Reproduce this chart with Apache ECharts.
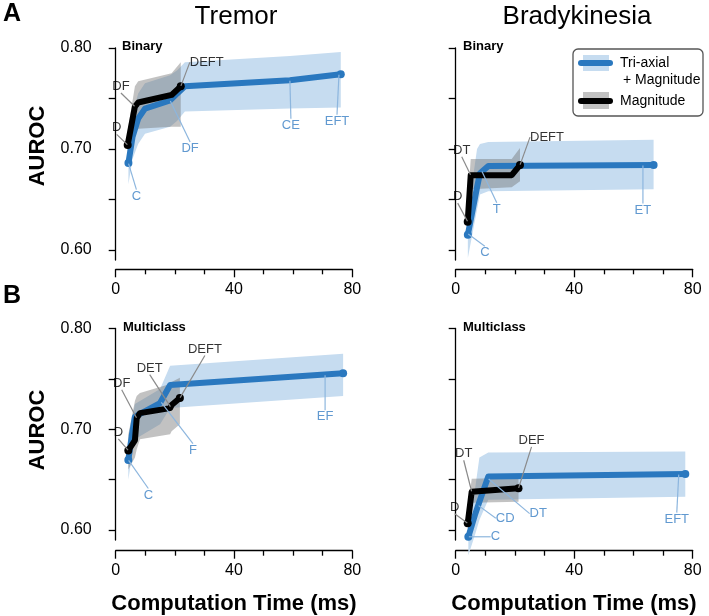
<!DOCTYPE html>
<html>
<head>
<meta charset="utf-8">
<script src="https://cdn.jsdelivr.net/npm/echarts@6/dist/echarts.min.js"></script>
<style>html,body{margin:0;padding:0;background:#fff}#c{width:709px;height:616px}</style>
</head>
<body>
<div id="c"></div>
<script>
// ---------- DATA ----------
const xTickLabels = [0, 40, 80];
const yTickLabels = [0.60, 0.70, 0.80];
const yTicks = [0.60, 0.65, 0.70, 0.75, 0.80];

// Tremor - Binary
const tbTriTime = [4.3, 5.7, 7.6, 9.9, 18.4, 20.8, 23.4, 58.9, 76.1];
const tbTriAuc  = [0.686, 0.712, 0.730, 0.740, 0.748, 0.755, 0.762, 0.768, 0.774];
const tbTriLo   = [0.665, 0.690, 0.705, 0.715, 0.722, 0.728, 0.737, 0.740, 0.741];
const tbTriHi   = [0.705, 0.735, 0.755, 0.765, 0.773, 0.778, 0.786, 0.792, 0.796];
const tbMagTime = [4.05, 6.5, 7.6, 18.9, 22.0];
const tbMagAuc  = [0.704, 0.742, 0.746, 0.7535, 0.762];
const tbMagLo   = [0.690, 0.716, 0.720, 0.722, 0.722];
const tbMagHi   = [0.718, 0.762, 0.767, 0.775, 0.786];
const tbMagNotes = [['D', 4.05, 0.704], ['DF', 6.5, 0.742], ['DEFT', 22.0, 0.762]];
const tbTriNotes = [['C', 4.3, 0.686], ['DF', 18.4, 0.748], ['CE', 58.9, 0.768], ['EFT', 75.5, 0.774]];

// Bradykinesia - Binary
const bbTriTime = [4.1, 7.2, 8.2, 11.0, 66.8];
const bbTriAuc  = [0.615, 0.662, 0.676, 0.683, 0.684];
const bbTriLo   = [0.592, 0.640, 0.655, 0.658, 0.660];
const bbTriHi   = [0.635, 0.700, 0.705, 0.707, 0.709];
const bbMagTime = [4.05, 5.07, 18.9, 21.7];
const bbMagAuc  = [0.628, 0.674, 0.674, 0.684];
const bbMagLo   = [0.612, 0.660, 0.662, 0.668];
const bbMagHi   = [0.645, 0.690, 0.690, 0.701];
const bbMagNotes = [['D', 4.05, 0.628], ['DT', 5.07, 0.674], ['DEFT', 21.7, 0.684]];
const bbTriNotes = [['C', 4.1, 0.616], ['T', 8.8, 0.678], ['ET', 63.2, 0.684]];

// Tremor - Multiclass
const tmTriTime = [4.27, 5.4, 6.5, 15.0, 18.4, 76.9];
const tmTriAuc  = [0.6695, 0.693, 0.7125, 0.726, 0.744, 0.7555];
const tmTriLo   = [0.650, 0.672, 0.690, 0.705, 0.721, 0.733];
const tmTriHi   = [0.683, 0.708, 0.725, 0.740, 0.763, 0.775];
const tmMagTime = [4.27, 6.5, 7.1, 8.2, 18.4, 18.9, 21.7];
const tmMagAuc  = [0.679, 0.689, 0.711, 0.716, 0.721, 0.724, 0.731];
const tmMagLo   = [0.660, 0.672, 0.680, 0.690, 0.695, 0.698, 0.705];
const tmMagHi   = [0.695, 0.728, 0.733, 0.736, 0.745, 0.747, 0.751];
const tmMagNotes = [['D', 4.27, 0.679], ['DF', 7.1, 0.711], ['DET', 18.6, 0.722], ['DEFT', 21.7, 0.731]];
const tmTriNotes = [['C', 4.27, 0.6695], ['F', 15.3, 0.727], ['EF', 70.8, 0.754]];

// Bradykinesia - Multiclass
const bmTriTime = [4.27, 6.5, 8.0, 11.0, 77.5];
const bmTriAuc  = [0.5933, 0.615, 0.628, 0.653, 0.6556];
const bmTriLo   = [0.575, 0.595, 0.610, 0.630, 0.633];
const bmTriHi   = [0.615, 0.640, 0.672, 0.677, 0.678];
const bmMagTime = [4.05, 5.4, 21.2];
const bmMagAuc  = [0.6067, 0.638, 0.6414];
const bmMagLo   = [0.600, 0.627, 0.628];
const bmMagHi   = [0.618, 0.651, 0.652];
const bmMagNotes = [['D', 4.05, 0.6067], ['DT', 5.4, 0.638], ['DEF', 21.2, 0.6414]];
const bmTriNotes = [['C', 4.27, 0.5933], ['CD', 7.6, 0.6245], ['DT', 11.0, 0.651], ['EFT', 75.3, 0.6555]];

// ---------- label offsets (pixels, style only) ----------
const offs = {
  tbMag: [[-11, -17], [-14, -20], [26, -24]],
  tbTri: [[8, 33], [20, 48], [1, 45], [-2, 47]],
  bbMag: [[-10, -25], [-9, -25], [27, -28]],
  bbTri: [[17, 19], [15, 38], [0, 45]],
  tmMag: [[-10, -18], [-15, -35], [-21, -39], [25, -49]],
  tmTri: [[20, 35], [32, 48], [0, 42]],
  bmMag: [[-13, -16], [-8, -38], [13, -48]],
  bmTri: [[27, 0], [27, 13], [50, 35], [-2, 45]]
};

// ---------- STYLE ----------
const FONT = 'Liberation Sans, Arial, Helvetica, sans-serif';
const BLUE = '#2a78bf';
const BLUE_TXT = '#3a80c4';
const BLUE_BAND = '#c6dcf0';
const GREY_BAND = 'rgba(110,110,110,0.42)';
const BLUE_LEAD = '#8db6de';
const GREY_LEAD = '#8a8a8a';

const grids = [
  {left: 115.7, top: 48, width: 236.6, height: 212, xoff: 9.3, labels: true},
  {left: 455.7, top: 48, width: 237, height: 212, xoff: 9.3, labels: false},
  {left: 115.7, top: 328.5, width: 236.6, height: 211.6, xoff: 10.6, labels: true},
  {left: 455.7, top: 328.5, width: 237, height: 211.6, xoff: 10.6, labels: false}
];

const axisLine = {show: true, lineStyle: {color: '#000', width: 1.3}};

function bandSeries(gi, xs, lo, hi, color) {
  const pts = xs.map((x, i) => [x, lo[i], hi[i]]);
  return {
    type: 'custom', xAxisIndex: gi, yAxisIndex: gi, silent: true, z: 1,
    data: pts, encode: {x: 0, y: [1, 2]},
    renderItem: function (params, api) {
      if (params.dataIndex !== 0) return null;
      const up = pts.map(p => api.coord([p[0], p[2]]));
      const dn = pts.map(p => api.coord([p[0], p[1]])).reverse();
      return {type: 'polygon', shape: {points: up.concat(dn)}, style: {fill: color}};
    }
  };
}

function lineSeries(gi, xs, ys, color, z) {
  const n = xs.length;
  return {
    type: 'line', xAxisIndex: gi, yAxisIndex: gi, silent: true, z: z,
    data: xs.map((x, i) => [x, ys[i]]),
    symbol: 'circle', showSymbol: true, showAllSymbol: true,
    symbolSize: (v, p) => (p.dataIndex === 0 || p.dataIndex === n - 1) ? 8 : 0,
    itemStyle: {color: color},
    lineStyle: {color: color, width: 6, cap: 'round', join: 'round'}
  };
}

function noteSeries(gi, notes, off, color, leadColor) {
  return {
    type: 'scatter', xAxisIndex: gi, yAxisIndex: gi, silent: true, z: 20,
    symbolSize: 1, itemStyle: {color: 'rgba(0,0,0,0)'},
    data: notes.map(n => ({name: n[0], value: [n[1], n[2]]})),
    label: {show: true, position: 'inside', formatter: '{b}', color: color, fontSize: 13, fontFamily: FONT},
    labelLine: {show: true, lineStyle: {color: leadColor, width: 1.2}},
    labelLayout: function (p) { const o = off[p.dataIndex]; return {dx: o[0], dy: o[1]}; }
  };
}

const xAxes = grids.map((g, i) => ({
  gridIndex: i, type: 'value', min: 0, max: 80, interval: 40, offset: g.xoff,
  axisLine: axisLine,
  axisTick: {show: true, length: 8, lineStyle: {color: '#000', width: 1.3}},
  minorTick: {show: true, splitNumber: 4, length: 5, lineStyle: {color: '#000', width: 1.3}},
  splitLine: {show: false}, minorSplitLine: {show: false},
  axisLabel: {show: true, fontSize: 16, color: '#000', margin: 12, fontFamily: FONT,
              customValues: xTickLabels}
}));

const yAxes = grids.map((g, i) => ({
  gridIndex: i, type: 'value', min: 0.59, max: 0.80, offset: 9,
  axisLine: axisLine,
  axisTick: {show: true, length: 7, customValues: yTicks, lineStyle: {color: '#000', width: 1.3}},
  splitLine: {show: false},
  axisLabel: {show: g.labels, customValues: yTickLabels, formatter: v => v.toFixed(2),
              fontSize: 16, color: '#000', margin: 15, fontFamily: FONT}
}));

const series = [
  bandSeries(0, tbTriTime, tbTriLo, tbTriHi, BLUE_BAND),
  bandSeries(0, tbMagTime, tbMagLo, tbMagHi, GREY_BAND),
  lineSeries(0, tbTriTime, tbTriAuc, BLUE, 5),
  lineSeries(0, tbMagTime, tbMagAuc, '#000', 6),
  noteSeries(0, tbMagNotes, offs.tbMag, '#000', GREY_LEAD),
  noteSeries(0, tbTriNotes, offs.tbTri, BLUE_TXT, BLUE_LEAD),

  bandSeries(1, bbTriTime, bbTriLo, bbTriHi, BLUE_BAND),
  bandSeries(1, bbMagTime, bbMagLo, bbMagHi, GREY_BAND),
  lineSeries(1, bbTriTime, bbTriAuc, BLUE, 5),
  lineSeries(1, bbMagTime, bbMagAuc, '#000', 6),
  noteSeries(1, bbMagNotes, offs.bbMag, '#000', GREY_LEAD),
  noteSeries(1, bbTriNotes, offs.bbTri, BLUE_TXT, BLUE_LEAD),

  bandSeries(2, tmTriTime, tmTriLo, tmTriHi, BLUE_BAND),
  bandSeries(2, tmMagTime, tmMagLo, tmMagHi, GREY_BAND),
  lineSeries(2, tmTriTime, tmTriAuc, BLUE, 5),
  lineSeries(2, tmMagTime, tmMagAuc, '#000', 6),
  noteSeries(2, tmMagNotes, offs.tmMag, '#000', GREY_LEAD),
  noteSeries(2, tmTriNotes, offs.tmTri, BLUE_TXT, BLUE_LEAD),

  bandSeries(3, bmTriTime, bmTriLo, bmTriHi, BLUE_BAND),
  bandSeries(3, bmMagTime, bmMagLo, bmMagHi, GREY_BAND),
  lineSeries(3, bmTriTime, bmTriAuc, BLUE, 5),
  lineSeries(3, bmMagTime, bmMagAuc, '#000', 6),
  noteSeries(3, bmMagNotes, offs.bmMag, '#000', GREY_LEAD),
  noteSeries(3, bmTriNotes, offs.bmTri, BLUE_TXT, BLUE_LEAD)
];

function txt(text, x, y, size, weight, align, rot) {
  return {type: 'text', x: x, y: y, rotation: rot || 0, z: 50,
    style: {text: text, fontSize: size, fontWeight: weight, fontFamily: FONT, fill: '#000',
            align: align || 'center', verticalAlign: 'middle'}};
}

const graphic = [
  txt('A', 12, 14, 25, 'bold'),
  txt('B', 12, 296, 25, 'bold'),
  txt('Tremor', 236, 17, 26, 'normal'),
  txt('Bradykinesia', 577, 17, 26, 'normal'),
  txt('AUROC', 38, 146, 22, 'bold', 'center', Math.PI / 2),
  txt('AUROC', 38, 430, 22, 'bold', 'center', Math.PI / 2),
  txt('Computation Time (ms)', 234, 604, 22, 'bold'),
  txt('Computation Time (ms)', 574, 604, 22, 'bold'),
  txt('Binary', 122, 46, 13, 'bold', 'left'),
  txt('Binary', 463, 46, 13, 'bold', 'left'),
  txt('Multiclass', 123, 327, 13, 'bold', 'left'),
  txt('Multiclass', 463, 327, 13, 'bold', 'left'),
  // legend
  {type: 'rect', z: 40, shape: {x: 573, y: 49, width: 130, height: 67, r: 5},
   style: {fill: '#fff', stroke: '#555', lineWidth: 1.3}},
  {type: 'rect', z: 41, shape: {x: 583, y: 55, width: 26, height: 16}, style: {fill: BLUE_BAND}},
  {type: 'line', z: 42, shape: {x1: 581, y1: 63, x2: 610, y2: 63}, style: {stroke: BLUE, lineWidth: 6, lineCap: 'round'}},
  {type: 'rect', z: 41, shape: {x: 583, y: 92, width: 26, height: 17}, style: {fill: GREY_BAND}},
  {type: 'line', z: 42, shape: {x1: 581, y1: 101, x2: 610, y2: 101}, style: {stroke: '#000', lineWidth: 6, lineCap: 'round'}},
  txt('Tri-axial', 620, 63, 14, 'normal', 'left'),
  txt('+ Magnitude', 623, 80, 14, 'normal', 'left'),
  txt('Magnitude', 620, 101, 14, 'normal', 'left')
];

const chart = echarts.init(document.getElementById('c'), null, {renderer: 'canvas'});
chart.setOption({
  animation: false,
  backgroundColor: '#fff',
  grid: grids.map(g => ({left: g.left, top: g.top, width: g.width, height: g.height,
                          containLabel: false, outerBoundsMode: 'none'})),
  xAxis: xAxes,
  yAxis: yAxes,
  series: series,
  graphic: graphic
});
</script>
</body>
</html>
